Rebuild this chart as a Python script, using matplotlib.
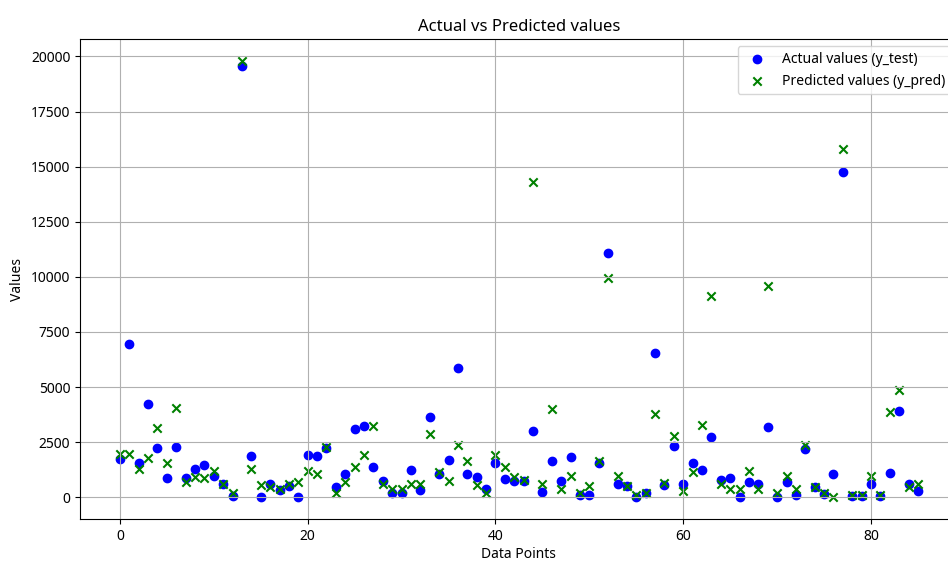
import matplotlib.pyplot as plt
import numpy as np

plt.switch_backend('Agg')
plt.rcParams['font.family'] = ['Noto Sans', 'DejaVu Sans']

# values
y_test = [1750, 6970, 1570, 4220, 2240, 880, 2280, 890, 1270, 1450,
          950, 620, 60, 19550, 1870, 20, 620, 320, 510, 20,
          1920, 1880, 2250, 440, 1040, 3080, 3220, 1380, 740, 170,
          170, 1220, 320, 3640, 1040, 1680, 5860, 1030, 920, 390,
          1570, 820, 730, 730, 2990, 240, 1630, 730, 1830, 120,
          120, 1530, 11090, 620, 510, 20, 170, 6560, 540, 2330,
          580, 1560, 1230, 2710, 800, 850, 20, 680, 580, 3190,
          20, 680, 90, 2180, 470, 150, 1070, 14740, 50, 50,
          620, 50, 1120, 3900, 580, 290]

y_pred = [1950, 1970, 1300, 1790, 3150, 1530, 4070, 700, 920, 880,
          1190, 590, 170, 19800, 1260, 540, 470, 350, 580, 690,
          1170, 1040, 2280, 210, 700, 1380, 1910, 3220, 620, 390,
          390, 590, 620, 2890, 1150, 740, 2390, 1630, 540, 170,
          1900, 1380, 920, 760, 14320, 590, 3990, 390, 970, 170,
          500, 1630, 9960, 970, 510, 120, 200, 3790, 650, 2780,
          270, 1150, 3290, 9120, 620, 390, 390, 1180, 390, 9580,
          200, 970, 390, 2390, 440, 170, 0, 15800, 120, 120,
          970, 120, 3870, 4880, 470, 620]

idx = np.arange(len(y_test))

fig = plt.figure(figsize=(9.48, 5.62), dpi=100)
# axes run past the right edge, as in the cropped original
ax = fig.add_axes([0.0844, 0.0765, 0.926, 0.854])

ax.scatter(idx, y_test, color='blue', label='Actual values (y_test)')
ax.scatter(idx, y_pred, color='green', marker='x', label='Predicted values (y_pred)')

ax.set_title('Actual vs Predicted values', fontsize=12)
ax.set_xlabel('Data Points', labelpad=2)
ax.set_ylabel('Values')
ax.grid(True)
ax.legend(loc='upper right')

fig.savefig('out.png', dpi=100)
